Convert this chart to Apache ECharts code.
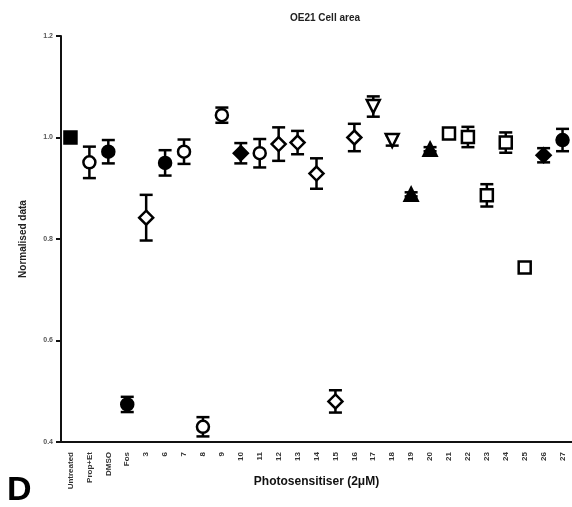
<!DOCTYPE html>
<html>
<head>
<meta charset="utf-8">
<script src="https://cdn.jsdelivr.net/npm/echarts@6/dist/echarts.min.js"></script>
<style>
  html, body { margin: 0; padding: 0; background: #fff; }
  #chart { width: 572px; height: 507px; }
</style>
</head>
<body>
<div id="chart"></div>
<script>
// data
var categories = ['Untreated', 'Prop+Et', 'DMSO', 'Fos', '3', '6', '7', '8', '9', '10',
    '11', '12', '13', '14', '15', '16', '17', '18', '19', '20',
    '21', '22', '23', '24', '25', '26', '27'];
var means = [1.000, 0.951, 0.972, 0.474, 0.842, 0.950, 0.972, 0.430, 1.044, 0.969,
    0.969, 0.987, 0.990, 0.929, 0.480, 1.000, 1.061, 0.994, 0.888, 0.977,
    1.008, 1.001, 0.886, 0.990, 0.744, 0.965, 0.995];
var sem = [0.000, 0.031, 0.023, 0.015, 0.045, 0.025, 0.024, 0.019, 0.015, 0.020,
    0.028, 0.033, 0.023, 0.030, 0.022, 0.027, 0.020, 0.010, 0.004, 0.004,
    0.005, 0.020, 0.022, 0.020, 0.007, 0.014, 0.022];
var yTicks = [0.4, 0.6, 0.8, 1.0, 1.2];

// marker shape / fill per group
var shapes = ['rect', 'circle', 'circle', 'circle', 'diamond', 'circle', 'circle', 'circle', 'circle', 'diamond',
    'circle', 'diamond', 'diamond', 'diamond', 'diamond', 'diamond', 'triangle', 'triangle', 'triangle', 'triangle',
    'rect', 'rect', 'rect', 'rect', 'rect', 'diamond', 'circle'];
var filled = [1, 0, 1, 1, 0, 1, 0, 0, 0, 1,
    0, 0, 0, 0, 0, 0, 0, 0, 1, 1,
    0, 0, 0, 0, 0, 1, 1];

var chart = echarts.init(document.getElementById('chart'));

var errData = categories.map(function (c, i) {
    return [i, means[i] - sem[i], means[i] + sem[i]];
});
var ptData = categories.map(function (c, i) {
    // groups 17 and 18 use downward triangles
    var isFlip = (c === '17' || c === '18');
    var sym = shapes[i];
    return {
        value: [i, means[i]],
        symbol: sym,
        symbolRotate: isFlip ? 180 : 0,
        symbolSize: sym === 'diamond' ? 14 : (sym === 'triangle' ? 13 : 12),
        itemStyle: {color: filled[i] ? '#000' : '#fff'}
    };
});

var font = 'Liberation Sans';

var options = {
    animation: false,
    backgroundColor: '#fff',
    title: {
        text: 'OE21 Cell area',
        left: 320,
        textAlign: 'center',
        top: 8,
        textStyle: {fontFamily: font, fontWeight: 'bold', fontSize: 10, color: '#222'}
    },
    grid: {left: 61, top: 36, width: 515, height: 406},
    xAxis: {
        type: 'category',
        data: categories,
        boundaryGap: true,
        name: 'Photosensitiser (2\u03bcM)',
        nameLocation: 'middle',
        nameGap: 34,
        nameMoveOverlap: false,
        nameTextStyle: {fontFamily: font, fontWeight: 'bold', fontSize: 12, color: '#111'},
        axisLine: {lineStyle: {color: '#111', width: 2}},
        axisTick: {alignWithLabel: true, length: 6, lineStyle: {color: '#111', width: 2}},
        axisLabel: {
            rotate: 90, interval: 0, margin: 10,
            fontFamily: font, fontWeight: 'bold', fontSize: 8, color: '#333'
        },
        splitLine: {show: false}
    },
    yAxis: {
        type: 'value',
        min: yTicks[0],
        max: yTicks[yTicks.length - 1],
        interval: 0.2,
        name: 'Normalised data',
        nameLocation: 'middle',
        nameGap: 33,
        nameRotate: 90,
        nameMoveOverlap: false,
        nameTextStyle: {fontFamily: font, fontWeight: 'bold', fontSize: 10, color: '#222'},
        axisLine: {show: true, lineStyle: {color: '#111', width: 2}},
        axisTick: {show: true, length: 5, lineStyle: {color: '#111', width: 2}},
        axisLabel: {
            margin: 8,
            fontFamily: font, fontWeight: 'bold', fontSize: 7, color: '#555',
            formatter: function (v) { return v.toFixed(1); }
        },
        splitLine: {show: false}
    },
    graphic: [{
        type: 'text',
        left: 7,
        top: 474,
        style: {text: 'D', fontFamily: font, fontWeight: 'bold', fontSize: 34, fill: '#000'}
    }],
    series: [{
        type: 'custom',
        data: errData,
        z: 2,
        renderItem: function (params, api) {
            var lo = api.coord([api.value(0), api.value(1)]);
            var hi = api.coord([api.value(0), api.value(2)]);
            var w = 6.5;
            var st = {stroke: '#000', lineWidth: 2.5};
            if (Math.abs(hi[1] - lo[1]) < 1) return null;
            return {
                type: 'group',
                children: [
                    {type: 'line', shape: {x1: lo[0], y1: lo[1], x2: hi[0], y2: hi[1]}, style: st},
                    {type: 'line', shape: {x1: lo[0] - w, y1: lo[1], x2: lo[0] + w, y2: lo[1]}, style: st},
                    {type: 'line', shape: {x1: hi[0] - w, y1: hi[1], x2: hi[0] + w, y2: hi[1]}, style: st}
                ]
            };
        }
    }, {
        type: 'scatter',
        data: ptData,
        z: 3,
        itemStyle: {borderColor: '#000', borderWidth: 2.5, opacity: 1}
    }]
};

chart.setOption(options);
</script>
</body>
</html>
